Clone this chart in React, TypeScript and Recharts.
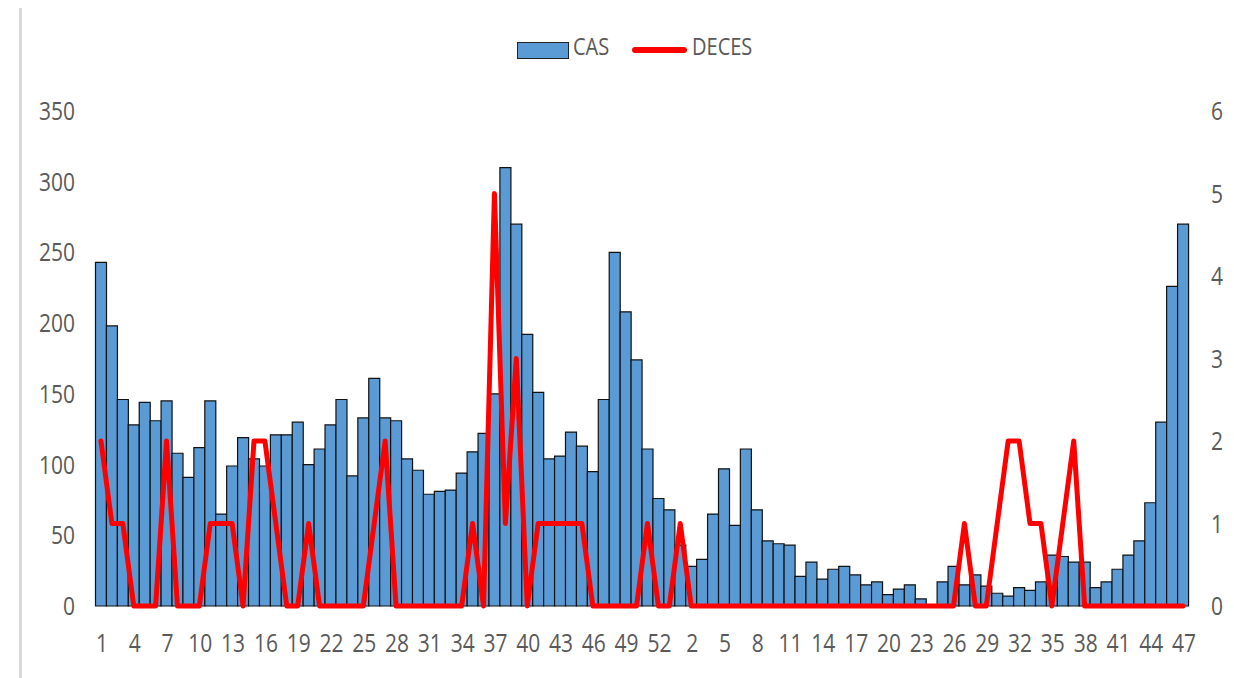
import React from 'react';
import { ComposedChart, Bar, Line, XAxis, YAxis, Legend } from 'recharts';

// Week labels (first year has 53 weeks, second year up to week 47)
const weeksYear1 = [1,2,3,4,5,6,7,8,9,10,11,12,13,14,15,16,17,18,19,20,21,22,23,24,25,26,27,28,29,30,31,32,33,34,35,36,37,38,39,40,41,42,43,44,45,46,47,48,49,50,51,52,53];
const weeksYear2 = [1,2,3,4,5,6,7,8,9,10,11,12,13,14,15,16,17,18,19,20,21,22,23,24,25,26,27,28,29,30,31,32,33,34,35,36,37,38,39,40,41,42,43,44,45,46,47];

const casYear1 = [243,198,146,128,144,131,145,108,91,112,145,65,99,119,104,99,121,121,130,100,111,128,146,92,133,161,133,131,104,96,79,81,82,94,109,122,150,310,270,192,151,104,106,123,113,95,146,250,208,174,111,76,68];
const casYear2 = [43,28,33,65,97,57,111,68,46,44,43,21,31,19,26,28,22,15,17,8,12,15,5,0,17,28,15,22,14,9,7,13,11,17,36,35,31,31,13,17,26,36,46,73,130,226,270];

const decesYear1 = [2,1,1,0,0,0,2,0,0,0,1,1,1,0,2,2,1,0,0,1,0,0,0,0,0,1,2,0,0,0,0,0,0,0,1,0,5,1,3,0,1,1,1,1,1,0,0,0,0,0,1,0,0];
const decesYear2 = [1,0,0,0,0,0,0,0,0,0,0,0,0,0,0,0,0,0,0,0,0,0,0,0,0,0,1,0,0,1,2,2,1,1,0,1,2,0,0,0,0,0,0,0,0,0,0];

const leftTicks = [0,50,100,150,200,250,300,350];
const rightTicks = [0,1,2,3,4,5,6];

const data = [
  ...weeksYear1.map((w, i) => ({ key: `a-${w}`, week: w, CAS: casYear1[i], DECES: decesYear1[i] })),
  ...weeksYear2.map((w, i) => ({ key: `b-${w}`, week: w, CAS: casYear2[i], DECES: decesYear2[i] })),
];

const TEXT = '#595959';
const FONT = '"Open Sans", sans-serif';

const XTick = (props: any) => {
  const { x, y, payload } = props;
  const label = String(payload.value).split('-')[1];
  return (
    <g transform={`translate(${x + 1},${y + 46})`}>
      <text textAnchor="middle" fill={TEXT} fontFamily={FONT} fontSize={21} transform="scale(1,1.22)">{label}</text>
    </g>
  );
};

const YTick = (props: any) => {
  const { x, y, payload, anchor } = props;
  return (
    <g transform={`translate(${x},${y + 9})`}>
      <text textAnchor={anchor} fill={TEXT} fontFamily={FONT} fontSize={21} transform="scale(1,1.22)">{payload.value}</text>
    </g>
  );
};

const LegendContent = () => (
  <div style={{ position: 'relative', width: 1234, height: 40, fontFamily: FONT, color: TEXT }}>
    <div style={{ position: 'absolute', left: 517, top: 12, width: 50, height: 15, background: '#5B9BD5', border: '1.5px solid #222' }} />
    <span style={{ position: 'absolute', left: 573, top: 3, fontSize: 20, lineHeight: '28px', display: 'inline-block', transform: 'scaleY(1.2)' }}>CAS</span>
    <div style={{ position: 'absolute', left: 632, top: 17, width: 55, height: 6, background: '#FF0000', borderRadius: 3 }} />
    <span style={{ position: 'absolute', left: 692, top: 3, fontSize: 20, lineHeight: '28px', display: 'inline-block', transform: 'scaleY(1.2)' }}>DECES</span>
  </div>
);

export default function App() {
  return (
    <div style={{ position: 'relative', width: 1234, height: 678, marginLeft: -8, marginTop: -8, background: '#fff', overflow: 'hidden' }}>
      <div style={{ position: 'absolute', left: 0, top: 0 }}>
        <ComposedChart
          width={1234}
          height={678}
          data={data}
          margin={{ top: 111, right: 0, bottom: 0, left: 0 }}
          barCategoryGap={0}
          barGap={0}
        >
          <XAxis
            dataKey="key"
            interval={2}
            axisLine={false}
            tickLine={false}
            tickSize={0}
            tickMargin={0}
            height={72}
            tick={<XTick />}
          />
          <YAxis
            yAxisId="left"
            orientation="left"
            domain={[0, 350]}
            ticks={leftTicks}
            axisLine={false}
            tickLine={false}
            tickSize={0}
            tickMargin={20.5}
            width={95.5}
            tick={<YTick anchor="end" />}
          />
          <YAxis
            yAxisId="right"
            orientation="right"
            domain={[0, 6]}
            ticks={rightTicks}
            axisLine={false}
            tickLine={false}
            tickSize={0}
            tickMargin={22.5}
            width={45.5}
            tick={<YTick anchor="start" />}
          />
          <Legend
            layout="horizontal"
            verticalAlign="middle"
            align="center"
            wrapperStyle={{ top: 30, left: 0, width: 1234, height: 40 }}
            content={<LegendContent />}
          />
          <Bar yAxisId="left" dataKey="CAS" fill="#5B9BD5" stroke="#111" strokeWidth={1.2} isAnimationActive={false} />
          <Line
            yAxisId="right"
            type="linear"
            dataKey="DECES"
            stroke="#FF0000"
            strokeWidth={5}
            dot={false}
            activeDot={false}
            strokeLinejoin="round"
            strokeLinecap="round"
            isAnimationActive={false}
          />
        </ComposedChart>
      </div>
      <div style={{ position: 'absolute', zIndex: 10, left: 20, top: 4, width: 1214, height: 3, background: '#d9d9d9' }} />
      <div style={{ position: 'absolute', zIndex: 10, left: 19, top: 4, width: 3, height: 674, background: '#d9d9d9' }} />
      <div style={{ position: 'absolute', zIndex: 10, left: 0, top: 0, width: 4, height: 498, background: '#000' }} />
      <div style={{ position: 'absolute', zIndex: 10, left: 0, top: 510, width: 5, height: 168, background: '#5B9BD5' }} />
    </div>
  );
}
